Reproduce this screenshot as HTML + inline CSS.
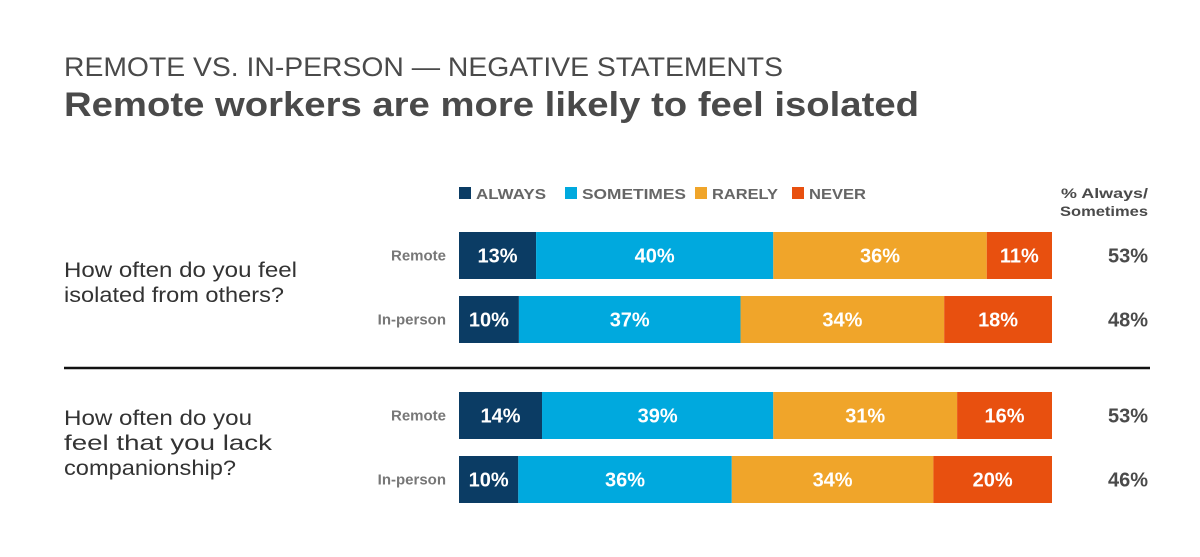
<!DOCTYPE html>
<html><head><meta charset="utf-8"><style>
body{margin:0;width:1200px;height:552px;background:#fff;font-family:"Liberation Sans",sans-serif;overflow:hidden}
</style></head><body>
<svg width="1200" height="552" xmlns="http://www.w3.org/2000/svg">
<text x="64" y="76" font-size="27" fill="#4a4a4a" textLength="719" lengthAdjust="spacingAndGlyphs">REMOTE VS. IN-PERSON — NEGATIVE STATEMENTS</text>
<text x="64" y="116" font-size="34" font-weight="bold" fill="#4a4a4a" textLength="855" lengthAdjust="spacingAndGlyphs">Remote workers are more likely to feel isolated</text>
<g id="legend"></g>
<text x="1148" y="198" font-size="14" font-weight="bold" fill="#4a4a4a" text-anchor="end" textLength="87" lengthAdjust="spacingAndGlyphs">% Always/</text>
<text x="1148" y="216" font-size="14" font-weight="bold" fill="#4a4a4a" text-anchor="end" textLength="88" lengthAdjust="spacingAndGlyphs">Sometimes</text>
<text font-size="21" fill="#333"><tspan x="64" y="277" textLength="233" lengthAdjust="spacingAndGlyphs">How often do you feel</tspan><tspan x="64" y="302" textLength="220" lengthAdjust="spacingAndGlyphs">isolated from others?</tspan></text>
<text font-size="21" fill="#333"><tspan x="64" y="425" textLength="188" lengthAdjust="spacingAndGlyphs">How often do you</tspan><tspan x="64" y="450" textLength="208" lengthAdjust="spacingAndGlyphs">feel that you lack</tspan><tspan x="64" y="475" textLength="172" lengthAdjust="spacingAndGlyphs">companionship?</tspan></text>
<line x1="64" y1="368" x2="1150" y2="368" stroke="#111" stroke-width="2.5"/>
<g id="bars"></g>
</svg>
<script>
const series = ["ALWAYS","SOMETIMES","RARELY","NEVER"];
const colors = ["#0b3c64","#00a9de","#f0a52a","#e8500f"];
const rowLabels = ["Remote","In-person","Remote","In-person"];
const always = [13,10,14,10];
const sometimes = [40,37,39,36];
const rarely = [36,34,31,34];
const never = [11,18,16,20];
const totals = ["53%","48%","53%","46%"];
const NS="http://www.w3.org/2000/svg";
const x0=459, x1=1052, rowY=[232,296,392,456], bh=47;
function mk(tag,attrs,parent){const e=document.createElementNS(NS,tag);for(const k in attrs)e.setAttribute(k,attrs[k]);parent.appendChild(e);return e;}
const lg=document.getElementById('legend');
const lx=[459,565,695,792];
const lw=[70,104,66,57];
series.forEach((s,i)=>{
  const r=mk('rect',{x:lx[i],y:187,width:12,height:12,fill:colors[i]},lg);
  
  
  const t=mk('text',{x:lx[i]+17,y:199,'font-size':15,'font-weight':'bold',fill:'#666',textLength:lw[i],lengthAdjust:'spacingAndGlyphs'},lg);
  t.textContent=s;
  
  
});
const g=document.getElementById('bars');
const data=[always,sometimes,rarely,never];
rowLabels.forEach((lab,r)=>{
  const y=rowY[r];
  const tl=mk('text',{x:446,y:y+bh/2+5,'font-size':15,'font-weight':'bold',fill:'#777','text-anchor':'end'},g);
  tl.textContent=lab;
  
  
  const sum=data.reduce((a,d)=>a+d[r],0);
  let x=x0;
  data.forEach((d,i)=>{
    const w=(x1-x0)*d[r]/sum;
    const rc=mk('rect',{x:x,y:y,width:w,height:bh,fill:colors[i]},g);
    
    
    const t=mk('text',{x:x+w/2,y:y+bh/2+7,'font-size':20,'font-weight':'bold',fill:'#fff','text-anchor':'middle'},g);
    t.textContent=d[r]+'%';
    
    
    x+=w;
  });
  const tt=mk('text',{x:1148,y:y+bh/2+7,'font-size':20,'font-weight':'bold',fill:'#4a4a4a','text-anchor':'end'},g);
  tt.textContent=totals[r];
  
  
});
</script>
</body></html>
